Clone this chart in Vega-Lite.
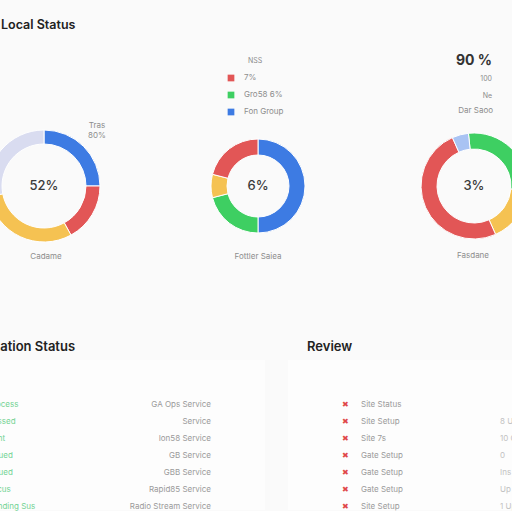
{
  "$schema": "https://vega.github.io/schema/vega-lite/v6.json",
  "background": "#fafafa",
  "padding": {"left": -60, "right": -68, "top": 18, "bottom": 0},
  "config": {
    "font": "Inter",
    "view": {"stroke": null, "fill": "#fdfdfd"},
    "title": {"color": "#222222", "fontSize": 13, "fontWeight": 600, "anchor": "start"},
    "text": {"fontSize": 8, "color": "#8d8d8d"}
  },
  "resolve": {"scale": {"color": "independent", "theta": "independent", "x": "independent", "y": "independent"}, "legend": {"color": "independent"}},
  "spacing": 40,
  "vconcat": [
    {
      "title": {"text": "Local Status", "dx": 61, "offset": 23, "fontSize": 12.5},
      "spacing": 16,
      "resolve": {"scale": {"color": "independent", "theta": "independent"}, "legend": {"color": "independent"}},
      "hconcat": [
        {
          "width": 208,
          "height": 230,
          "layer": [
            {
              "data": {"values": [
                {"seg": "Open", "v": 25, "k": 1},
                {"seg": "Blocked", "v": 17, "k": 2},
                {"seg": "Pending", "v": 30, "k": 3},
                {"seg": "Idle", "v": 28, "k": 4}
              ]},
              "mark": {"type": "arc", "innerRadius": 42, "outerRadius": 56, "stroke": "#ffffff", "strokeWidth": 1},
              "encoding": {
                "theta": {"field": "v", "type": "quantitative", "stack": true},
                "order": {"field": "k"},
                "color": {"field": "seg", "type": "nominal", "legend": null,
                  "scale": {"domain": ["Open", "Blocked", "Pending", "Idle"], "range": ["#3d7be3", "#e25656", "#f5c252", "#d9dcf0"]}}
              }
            },
            {
              "data": {"values": [{"t": "52%"}]},
              "mark": {"type": "text", "fontSize": 13, "fontWeight": 500, "color": "#3a3a3a"},
              "encoding": {"text": {"field": "t"}}
            },
            {
              "data": {"values": [{"t": "Tras"}]},
              "mark": {"type": "text", "dx": 53, "dy": -60},
              "encoding": {"text": {"field": "t"}}
            },
            {
              "data": {"values": [{"t": "80%"}]},
              "mark": {"type": "text", "dx": 53, "dy": -50},
              "encoding": {"text": {"field": "t"}}
            },
            {
              "data": {"values": [{"t": "Cadame"}]},
              "mark": {"type": "text", "dx": 2, "dy": 71},
              "encoding": {"text": {"field": "t"}}
            }
          ]
        },
        {
          "width": 188,
          "height": 230,
          "layer": [
            {
              "data": {"values": [
                {"seg": "Fon Group", "v": 50, "k": 1},
                {"seg": "Gro58 6%", "v": 21, "k": 2},
                {"seg": "Other", "v": 8, "k": 3},
                {"seg": "7%", "v": 21, "k": 4}
              ]},
              "mark": {"type": "arc", "innerRadius": 31, "outerRadius": 47, "stroke": "#ffffff", "strokeWidth": 1},
              "encoding": {
                "theta": {"field": "v", "type": "quantitative", "stack": true},
                "order": {"field": "k"},
                "color": {"field": "seg", "type": "nominal",
                  "scale": {"domain": ["7%", "Gro58 6%", "Fon Group", "Other"], "range": ["#e25656", "#3ecf62", "#3d7be3", "#f5c252"]},
                  "legend": {
                    "orient": "none", "legendX": 63, "legendY": -14,
                    "values": ["7%", "Gro58 6%", "Fon Group"],
                    "title": "NSS", "titleAnchor": "middle", "titleFontSize": 7, "titleColor": "#8d8d8d", "titleFontWeight": "normal", "titlePadding": 10,
                    "symbolType": "square", "symbolSize": 45, "symbolStrokeWidth": 0,
                    "labelFontSize": 8, "labelColor": "#8d8d8d", "labelOffset": 9, "rowPadding": 9
                  }}
              }
            },
            {
              "data": {"values": [{"t": "6%"}]},
              "mark": {"type": "text", "fontSize": 13, "fontWeight": 500, "color": "#3a3a3a"},
              "encoding": {"text": {"field": "t"}}
            },
            {
              "data": {"values": [{"t": "Fottler Saiea"}]},
              "mark": {"type": "text", "dy": 71},
              "encoding": {"text": {"field": "t"}}
            }
          ]
        },
        {
          "width": 212,
          "height": 230,
          "layer": [
            {
              "data": {"values": [
                {"seg": "Done", "v": 28, "k": 1},
                {"seg": "Waiting", "v": 17, "k": 2},
                {"seg": "Failed", "v": 50, "k": 3},
                {"seg": "Queued", "v": 5, "k": 4}
              ]},
              "mark": {"type": "arc", "innerRadius": 37, "outerRadius": 53, "stroke": "#ffffff", "strokeWidth": 1},
              "encoding": {
                "theta": {"field": "v", "type": "quantitative", "stack": true, "scale": {"range": [-0.105, 6.178]}},
                "order": {"field": "k"},
                "color": {"field": "seg", "type": "nominal", "legend": null,
                  "scale": {"domain": ["Done", "Waiting", "Failed", "Queued"], "range": ["#3ecf62", "#f5c252", "#e25656", "#a9c3f3"]}}
              }
            },
            {
              "data": {"values": [{"t": "3%"}]},
              "mark": {"type": "text", "fontSize": 13, "fontWeight": 500, "color": "#3a3a3a"},
              "encoding": {"text": {"field": "t"}}
            },
            {
              "data": {"values": [{"t": "90 %"}]},
              "mark": {"type": "text", "align": "right", "fontSize": 14, "fontWeight": "bold", "color": "#333333", "dx": 18, "dy": -125},
              "encoding": {"text": {"field": "t"}}
            },
            {
              "data": {"values": [{"t": "100"}]},
              "mark": {"type": "text", "align": "right", "fontSize": 7, "dx": 18, "dy": -107},
              "encoding": {"text": {"field": "t"}}
            },
            {
              "data": {"values": [{"t": "Ne"}]},
              "mark": {"type": "text", "align": "right", "fontSize": 7, "dx": 18, "dy": -90},
              "encoding": {"text": {"field": "t"}}
            },
            {
              "data": {"values": [{"t": "Dar Saoo"}]},
              "mark": {"type": "text", "align": "right", "dx": 19, "dy": -75},
              "encoding": {"text": {"field": "t"}}
            },
            {
              "data": {"values": [{"t": "Fasdane"}]},
              "mark": {"type": "text", "dx": -1, "dy": 70},
              "encoding": {"text": {"field": "t"}}
            }
          ]
        }
      ]
    },
    {
      "spacing": 23,
      "hconcat": [
        {
          "width": 325,
          "height": 150,
          "title": {"text": "Application Status", "dx": 20, "offset": 6, "frame": "group"},
          "data": {"values": [
            {"r": 1, "status": "Process", "detail": "GA Ops Service"},
            {"r": 2, "status": "Passed", "detail": "Service"},
            {"r": 3, "status": "Sent", "detail": "Ion58 Service"},
            {"r": 4, "status": "Issued", "detail": "GB Service"},
            {"r": 5, "status": "Issued", "detail": "GBB Service"},
            {"r": 6, "status": "Focus", "detail": "Rapid85 Service"},
            {"r": 7, "status": "Pending Sus", "detail": "Radio Stream Service"}
          ]},
          "encoding": {
            "y": {"field": "r", "type": "ordinal", "axis": null, "scale": {"type": "point", "padding": 0, "range": [45, 147]}}
          },
          "layer": [
            {
              "mark": {"type": "text", "align": "left", "color": "#74d394"},
              "encoding": {
                "x": {"datum": "status", "type": "nominal", "axis": null, "scale": {"type": "point", "padding": 0, "domain": ["status", "detail"], "range": [48, 271]}},
                "text": {"field": "status"}
              }
            },
            {
              "mark": {"type": "text", "align": "right", "color": "#9a9a9a"},
              "encoding": {
                "x": {"datum": "detail", "type": "nominal"},
                "text": {"field": "detail"}
              }
            }
          ]
        },
        {
          "width": 292,
          "height": 150,
          "title": {"text": "Review", "dx": 19, "offset": 6, "frame": "group"},
          "data": {"values": [
            {"r": 1, "item": "Site Status", "note": ""},
            {"r": 2, "item": "Site Setup", "note": "8 Up"},
            {"r": 3, "item": "Site 7s", "note": "10 GB"},
            {"r": 4, "item": "Gate Setup", "note": "0"},
            {"r": 5, "item": "Gate Setup", "note": "Ins"},
            {"r": 6, "item": "Gate Setup", "note": "Up"},
            {"r": 7, "item": "Site Setup", "note": "1 Up"}
          ]},
          "encoding": {
            "y": {"field": "r", "type": "ordinal", "axis": null, "scale": {"type": "point", "padding": 0, "range": [45, 147]}}
          },
          "layer": [
            {
              "mark": {"type": "text", "align": "center", "color": "#e04848", "fontSize": 8, "text": "✖"},
              "encoding": {
                "x": {"datum": "icon", "type": "nominal", "axis": null, "scale": {"type": "point", "padding": 0, "domain": ["icon", "item"], "range": [57, 73]}}
              }
            },
            {
              "mark": {"type": "text", "align": "left", "color": "#9a9a9a"},
              "encoding": {
                "x": {"datum": "item", "type": "nominal"},
                "text": {"field": "item"}
              }
            },
            {
              "mark": {"type": "text", "align": "left", "color": "#c2c2c2", "dx": 139},
              "encoding": {
                "x": {"datum": "item", "type": "nominal"},
                "text": {"field": "note"}
              }
            }
          ]
        }
      ]
    }
  ]
}
